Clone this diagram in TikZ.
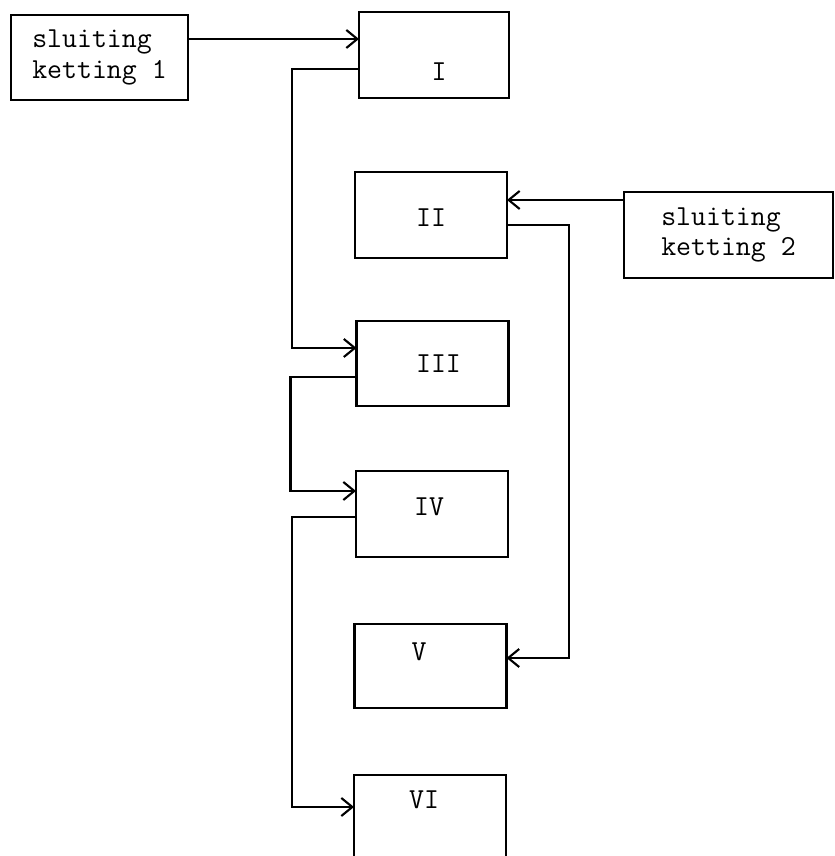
\documentclass[tikz,border=0pt]{standalone}
\usepackage{fontspec}
\usepackage{tikz}
\usetikzlibrary{arrows.meta}

\tikzset{
  stage/.style={draw, very thick, minimum width=3.04cm, minimum height=1.72cm,
    inner sep=0pt, outer sep=0pt},
  closer/.style={stage, align=left, font=\fontsize{16.5}{17.6}\selectfont\ttfamily},
  numeral/.style={font=\fontsize{16.5}{17.6}\selectfont\ttfamily},
  flow/.style={very thick, -{Straight Barb[length=2.2mm,width=3.6mm]}}
}

\begin{document}
\begin{tikzpicture}
    \useasboundingbox (0,0) rectangle (16.68,17.12);

    % the two closing chains
    \node[closer, minimum width=3.54cm, minimum height=1.70cm] (sk1) at (1.99,15.97)
        {sluiting\\ketting 1};
    \node[closer, minimum width=4.18cm] (sk2) at (14.57,12.42)
        {sluiting\\ketting 2};

    % the six stages, labels sit off centre
    \node[stage, minimum width=3.0cm,
          label={[numeral, shift={(0.1,-0.33)}]center:I}] (I) at (8.68,16.02) {};
    \node[stage, label={[numeral, shift={(0,-0.06)}]center:II}] (II) at (8.62,12.82) {};
    \node[stage, minimum height=1.70cm,
          label={[numeral, shift={(0.12,0)}]center:III}] (III) at (8.65,9.85) {};
    \node[stage, label={[numeral, shift={(-0.06,0.14)}]center:IV}] (IV) at (8.64,6.84) {};
    \node[stage, minimum height=1.68cm,
          label={[numeral, shift={(-0.23,0.28)}]center:V}] (V) at (8.61,3.80) {};
    \node[stage, label={[numeral, shift={(-0.12,0.36)}]center:VI}] (VI) at (8.60,0.76) {};

    % chain 1 into I, then down the left side
    \coordinate (inI) at ([yshift=0.32cm]I.west);
    \draw[flow] (sk1.east |- inI) -- (inI);
    \draw[flow] ([yshift=-0.28cm]I.west) -- ++(-1.34,0) |- ([yshift=0.31cm]III.west);
    \draw[flow] ([yshift=-0.27cm]III.west) -- ++(-1.32,0) |- ([yshift=0.46cm]IV.west);
    \draw[flow] ([yshift=-0.06cm]IV.west) -- ++(-1.28,0) |- ([yshift=0.22cm]VI.west);

    % chain 2 into II, then down the right side
    \coordinate (inII) at ([yshift=0.3cm]II.east);
    \draw[flow] (sk2.west |- inII) -- (inII);
    \draw[flow] ([yshift=-0.2cm]II.east) -- ++(1.24,0) |- ([yshift=0.16cm]V.east);

\end{tikzpicture}
\end{document}
